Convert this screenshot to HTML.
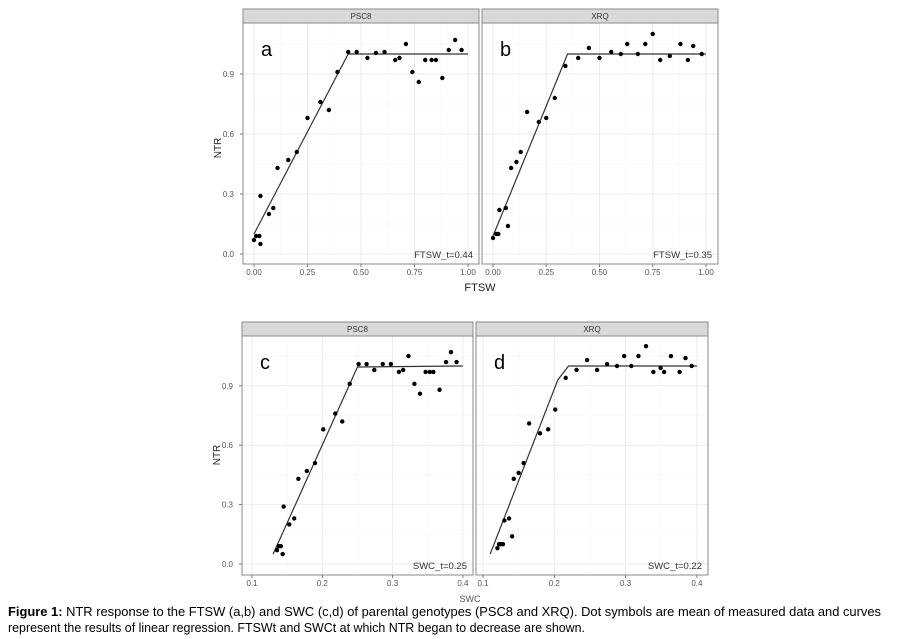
<!DOCTYPE html>
<html><head><meta charset="utf-8"><style>
html,body{margin:0;padding:0;background:#fff;}
svg{display:block;font-family:"Liberation Sans",Arial,sans-serif;}
</style></head><body>
<svg id="s" width="908" height="639" viewBox="0 0 908 639" xmlns="http://www.w3.org/2000/svg">
<g id="g"></g>
<text x="221" y="148" font-size="10" fill="#222" transform="rotate(-90 221 148)" text-anchor="middle">NTR</text>
<text x="220" y="455" font-size="10" fill="#222" transform="rotate(-90 220 455)" text-anchor="middle">NTR</text>
<text x="480" y="291" font-size="11" fill="#222" text-anchor="middle">FTSW</text>
<text x="470" y="602" font-size="9" fill="#555" text-anchor="middle">SWC</text>
<text x="8" y="616" font-size="12.5" fill="#000" textLength="873" lengthAdjust="spacingAndGlyphs"><tspan font-weight="bold">Figure 1:</tspan> NTR response to the FTSW (a,b) and SWC (c,d) of parental genotypes (PSC8 and XRQ). Dot symbols are mean of measured data and curves</text>
<text x="8" y="632" font-size="12.5" fill="#000" textLength="577" lengthAdjust="spacingAndGlyphs">represent the results of linear regression. FTSWt and SWCt at which NTR began to decrease are shown.</text>
</svg>
<script>
var g=document.getElementById('g');var NS='http://www.w3.org/2000/svg';
function el(t,a,txt){var e=document.createElementNS(NS,t);for(var k in a)e.setAttribute(k,a[k]);if(txt!==undefined)e.textContent=txt;g.appendChild(e);return e;}
function panel(o){
 var X=function(v){return o.x0+(v-o.xa)*o.sx},Y=function(v){return o.y0-v*o.sy};
 el('rect',{x:o.L,y:o.T+14,width:o.R-o.L,height:o.B-o.T-14,fill:'#fff'});
 for(var i=0;i<o.xt.length;i++){var v=o.xt[i];el('line',{x1:X(v),x2:X(v),y1:o.T+14,y2:o.B,stroke:'#ebebeb','stroke-width':1});
  if(i<o.xt.length-1){var m=(v+o.xt[i+1])/2;el('line',{x1:X(m),x2:X(m),y1:o.T+14,y2:o.B,stroke:'#f5f5f5','stroke-width':0.6});}}
 [0,0.3,0.6,0.9].forEach(function(v,i){el('line',{x1:o.L,x2:o.R,y1:Y(v),y2:Y(v),stroke:'#ebebeb'});el('line',{x1:o.L,x2:o.R,y1:Y(v+0.15),y2:Y(v+0.15),stroke:'#f5f5f5','stroke-width':0.6});
  if(o.ylab){el('text',{x:o.L-9,y:Y(v)+3,'font-size':8,fill:'#555','text-anchor':'end'},v.toFixed(1));el('line',{x1:o.L-3,x2:o.L,y1:Y(v),y2:Y(v),stroke:'#777'});}});
 o.xt.forEach(function(v,i){el('text',{x:X(v),y:o.B+11,'font-size':8,fill:'#555','text-anchor':'middle'},o.xl[i]);el('line',{x1:X(v),x2:X(v),y1:o.B,y2:o.B+3,stroke:'#777'});});
 el('rect',{x:o.L,y:o.T,width:o.R-o.L,height:14,fill:'#d9d9d9',stroke:'#8a8a8a','stroke-width':1});
 el('text',{x:(o.L+o.R)/2,y:o.T+10,'font-size':8,fill:'#333','text-anchor':'middle'},o.title);
 el('rect',{x:o.L,y:o.T+14,width:o.R-o.L,height:o.B-o.T-14,fill:'none',stroke:'#8a8a8a','stroke-width':1});
 el('polyline',{points:o.line.map(function(p){return X(p[0])+','+Y(p[1])}).join(' '),fill:'none',stroke:'#333','stroke-width':1.2});
 o.pts.forEach(function(p){el('circle',{cx:X(p[0]),cy:Y(p[1]),r:2.2,fill:'#000'});});
 el('text',{x:o.L+18,y:o.T+47,'font-size':20,fill:'#000'},o.letter);
 el('text',{x:o.R-6,y:o.B-6,'font-size':9.5,fill:'#333','text-anchor':'end'},o.note);
}
var A=[[0,.07],[.01,.09],[.025,.09],[.03,.29],[.03,.05],[.07,.2],[.09,.23],[.11,.43],[.16,.47],[.2,.51],[.25,.68],[.31,.76],[.35,.72],[.39,.91],[.44,1.01],[.48,1.01],[.53,.98],[.57,1.005],[.61,1.01],[.66,.97],[.68,.98],[.71,1.05],[.74,.91],[.77,.86],[.8,.97],[.83,.97],[.85,.97],[.88,.88],[.91,1.02],[.94,1.07],[.97,1.02]];
var Bp=[[0,.08],[.015,.1],[.025,.1],[.03,.22],[.06,.23],[.07,.14],[.085,.43],[.11,.46],[.13,.51],[.16,.71],[.215,.66],[.25,.68],[.29,.78],[.34,.94],[.4,.98],[.45,1.03],[.5,.98],[.555,1.01],[.6,1.0],[.63,1.05],[.68,1.0],[.715,1.05],[.75,1.1],[.785,.97],[.83,.99],[.88,1.05],[.915,.97],[.94,1.04],[.98,1.0]];
var C=[[.1355,.07],[.138,.09],[.141,.09],[.145,.29],[.1436,.05],[.153,.2],[.16,.23],[.166,.43],[.178,.47],[.1896,.51],[.2014,.68],[.2185,.76],[.2284,.72],[.239,.91],[.2517,1.01],[.263,1.01],[.274,.98],[.286,1.01],[.2976,1.01],[.309,.97],[.315,.98],[.3225,1.05],[.331,.91],[.339,.86],[.347,.97],[.353,.97],[.358,.97],[.3668,.88],[.376,1.02],[.383,1.07],[.391,1.02]];
var D=[[.1202,.08],[.1225,.1],[.125,.1],[.128,.1],[.13,.22],[.1366,.23],[.1408,.14],[.1431,.43],[.15,.46],[.157,.51],[.1647,.71],[.18,.66],[.1914,.68],[.2013,.78],[.216,.94],[.2312,.98],[.246,1.03],[.26,.98],[.274,1.01],[.288,1.0],[.298,1.05],[.308,1.0],[.318,1.05],[.3286,1.1],[.339,.97],[.349,.99],[.354,.97],[.3636,1.05],[.3758,.97],[.384,1.04],[.3927,1.0]];
var fx=[0,.25,.5,.75,1],fl=['0.00','0.25','0.50','0.75','1.00'],sx=[.1,.2,.3,.4],sl=['0.1','0.2','0.3','0.4'];
panel({L:243,R:479,T:9,B:264,x0:254,xa:0,sx:214,y0:254,sy:200,xt:fx,xl:fl,ylab:1,title:'PSC8',letter:'a',note:'FTSW_t=0.44',pts:A,line:[[0,.1],[.44,1],[1,1]]});
panel({L:482,R:718,T:9,B:264,x0:493,xa:0,sx:213,y0:254,sy:200,xt:fx,xl:fl,ylab:0,title:'XRQ',letter:'b',note:'FTSW_t=0.35',pts:Bp,line:[[0,.09],[.35,1],[1,1]]});
panel({L:242,R:473,T:322,B:575,x0:252,xa:.1,sx:703,y0:564,sy:198,xt:sx,xl:sl,ylab:1,title:'PSC8',letter:'c',note:'SWC_t=0.25',pts:C,line:[[.13,.05],[.25,.995],[.4,1]]});
panel({L:476,R:708,T:322,B:575,x0:483,xa:.1,sx:713,y0:564,sy:198,xt:sx,xl:sl,ylab:0,title:'XRQ',letter:'d',note:'SWC_t=0.22',pts:D,line:[[.11,.05],[.205,.93],[.22,1],[.4,1]]});
</script>
</body></html>
